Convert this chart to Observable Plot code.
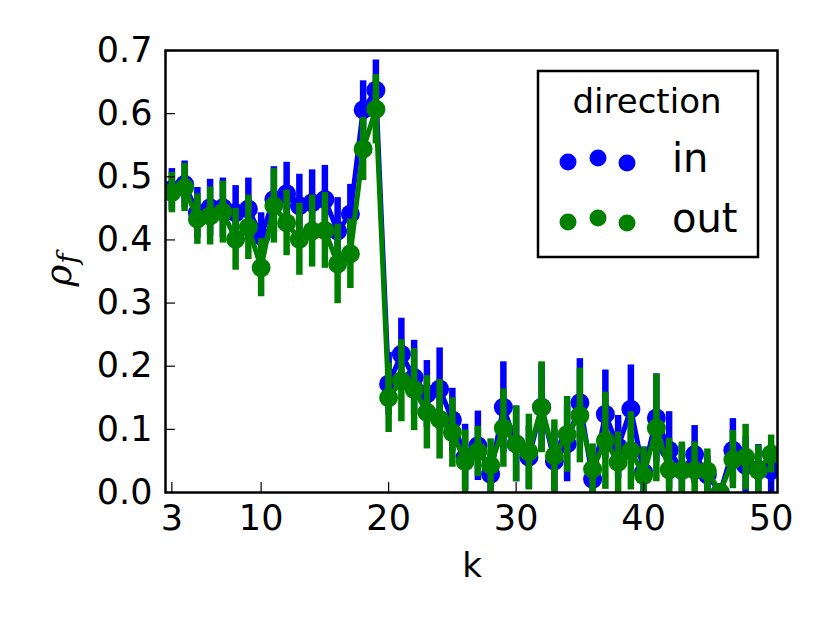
<!DOCTYPE html>
<html><head><meta charset="utf-8">
<script src="https://cdn.jsdelivr.net/npm/d3@7"></script>
<script src="https://cdn.jsdelivr.net/npm/@observablehq/plot@0.6"></script>
<style>body{margin:0;background:#fff;}</style>
</head><body><div id="chart"></div>
<script>
const k = [3,4,5,6,7,8,9,10,11,12,13,14,15,16,17,18,19,20,21,22,23,24,25,26,27,28,29,30,31,32,33,34,35,36,37,38,39,40,41,42,43,44,45,46,47,48,49,50];
const inVals = [0.480,0.488,0.443,0.451,0.451,0.443,0.449,0.406,0.464,0.473,0.454,0.459,0.464,0.414,0.441,0.606,0.637,
  0.172,0.219,0.182,0.156,0.164,0.115,0.056,0.074,0.029,0.135,0.077,0.056,0.135,0.050,0.077,0.142,0.021,0.124,0.072,0.132,0.032,0.118,0.067,0.035,0.060,0.028,0.000,0.067,0.043,0.036,0.035];
const inErr = [0.033,0.037,0.040,0.045,0.047,0.043,0.049,0.037,0.052,0.050,0.050,0.052,0.054,0.053,0.047,0.046,0.048,
  0.050,0.057,0.059,0.053,0.065,0.050,0.052,0.055,0.035,0.072,0.060,0.050,0.070,0.050,0.060,0.070,0.035,0.070,0.050,0.070,0.040,0.070,0.061,0.040,0.046,0.030,0.000,0.050,0.045,0.040,0.035];
const outVals = [0.475,0.483,0.433,0.438,0.444,0.401,0.420,0.356,0.454,0.427,0.401,0.414,0.415,0.362,0.378,0.544,0.607,
  0.150,0.177,0.163,0.127,0.116,0.095,0.049,0.065,0.043,0.102,0.077,0.064,0.135,0.058,0.092,0.122,0.037,0.082,0.048,0.066,0.027,0.102,0.036,0.035,0.035,0.034,0.000,0.052,0.056,0.035,0.061];
const outErr = [0.032,0.038,0.040,0.046,0.049,0.049,0.051,0.046,0.059,0.052,0.057,0.057,0.060,0.063,0.055,0.050,0.055,
  0.055,0.065,0.065,0.058,0.063,0.055,0.050,0.040,0.042,0.062,0.060,0.060,0.072,0.057,0.060,0.075,0.040,0.077,0.048,0.062,0.045,0.085,0.050,0.045,0.045,0.035,0.000,0.046,0.052,0.040,0.030];
const xTicks = [3,10,20,30,40,50];
const yTicks = [0,0.1,0.2,0.3,0.4,0.5,0.6,0.7];
const seriesNames = ["in","out"];
const seriesColors = ["#0000ff","#008000"];
const legendTitle = "direction";
const xLabel = "k";

const rows = (vals, errs, name) => k.map((kk,i)=>({k:kk, v:vals[i], lo:vals[i]-errs[i], hi:vals[i]+errs[i], dir:name}));
const seriesData = [rows(inVals,inErr,"in"), rows(outVals,outErr,"out")];

const fontFam = "'DejaVu Sans', sans-serif";
const seriesMarks = seriesData.flatMap((data,i)=>[
  Plot.line(data,{x:"k",y:"v",stroke:seriesColors[i],strokeWidth:5,clip:true}),
  Plot.ruleX(data,{x:"k",y1:"lo",y2:"hi",stroke:seriesColors[i],strokeWidth:6.5,clip:true}),
  Plot.dot(data,{x:"k",y:"v",r:9.5,fill:seriesColors[i],stroke:"none",clip:true})
]);

const plot = Plot.plot({
  width:830, height:623,
  marginLeft:165, marginRight:53, marginTop:50, marginBottom:131,
  style:{fontFamily:fontFam, fontSize:"35px", background:"white", color:"black"},
  x:{domain:[2.5,50.5]},
  y:{domain:[0,0.7]},
  marks:[
    ...seriesMarks,
    Plot.tickX(xTicks,{x:d=>d, insetTop:432, stroke:"black", strokeWidth:1.2}),
    Plot.tickY(yTicks,{y:d=>d, insetRight:602, stroke:"black", strokeWidth:1.2}),
    Plot.axisX(xTicks,{tickSize:0, tickPadding:13, label:null, fill:"black"}),
    Plot.axisY(yTicks,{tickSize:0, tickPadding:13, tickFormat:d=>d.toFixed(1), label:null, fill:"black"}),
    Plot.frame({stroke:"black", strokeWidth:2.5})
  ]
});
document.getElementById("chart").appendChild(plot);

const svg = d3.select(plot);
// axis labels
svg.append("text").attr("x",472).attr("y",577).attr("text-anchor","middle")
  .attr("font-family",fontFam).attr("font-size",34).attr("fill","black").text(xLabel);
const yl = svg.append("text").attr("transform","translate(71,270) rotate(-90)").attr("text-anchor","middle")
  .attr("font-family","'DejaVu Serif', serif").attr("font-size",37).attr("font-style","italic").attr("fill","black");
yl.append("tspan").text("ρ");
yl.append("tspan").attr("dx",1).attr("dy",6).attr("font-size",28).text("f");

// legend
const lg = svg.append("g");
lg.append("rect").attr("x",538).attr("y",71).attr("width",220).attr("height",186)
  .attr("fill","white").attr("stroke","black").attr("stroke-width",2.5);
lg.append("text").attr("x",647).attr("y",113).attr("text-anchor","middle")
  .attr("font-family",fontFam).attr("font-size",34).attr("fill","black").text(legendTitle);
const dotX = [568,598,627], dotDy = [2,-2,3];
seriesNames.forEach((name,i)=>{
  const cy = 160 + i*60;
  dotX.forEach((dx,j)=>lg.append("circle").attr("cx",dx).attr("cy",cy+dotDy[j]).attr("r",8.5).attr("fill",seriesColors[i]));
  lg.append("text").attr("x",672).attr("y",cy+12).attr("text-anchor","start").attr("font-family",fontFam).attr("font-size",40)
    .attr("fill","black").text(name);
});
</script>
</body></html>
